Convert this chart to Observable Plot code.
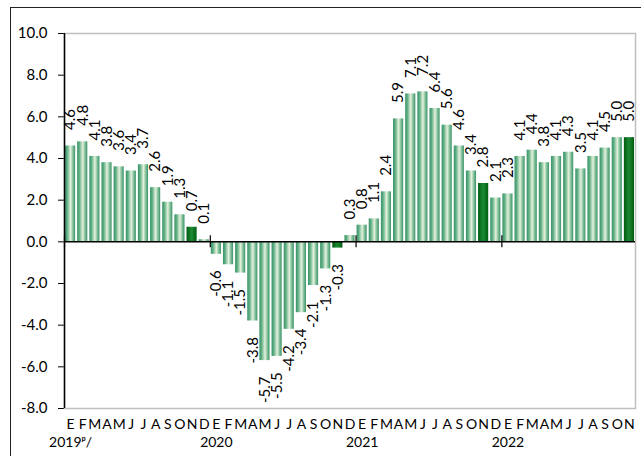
<!DOCTYPE html>
<html>
<head>
<meta charset="utf-8">
<script src="https://cdn.jsdelivr.net/npm/d3@7"></script>
<script src="https://cdn.jsdelivr.net/npm/@observablehq/plot@0.6"></script>
<style>
  html, body { margin: 0; padding: 0; background: #fff; overflow: hidden; }
  #wrap { position: relative; width: 641px; height: 456px; }
  #frame { position: absolute; left: 10px; top: 7px; width: 700px; height: 520px; border: 1.5px solid #222; box-sizing: border-box; pointer-events: none; }
  #chart { position: absolute; left: 0; top: 0; }
</style>
</head>
<body>
<div id="wrap"><div id="chart"></div><div id="frame"></div></div>
<script>
// Monthly values, Jan 2019 – Nov 2022
const months = ["E","F","M","A","M","J","J","A","S","O","N","D"];
const values2019 = [4.6, 4.8, 4.1, 3.8, 3.6, 3.4, 3.7, 2.6, 1.9, 1.3, 0.7, 0.1];
const values2020 = [-0.6, -1.1, -1.5, -3.8, -5.7, -5.5, -4.2, -3.4, -2.1, -1.3, -0.3, 0.3];
const values2021 = [0.8, 1.1, 2.4, 5.9, 7.1, 7.2, 6.4, 5.6, 4.6, 3.4, 2.8, 2.1];
const values2022 = [2.3, 4.1, 4.4, 3.8, 4.1, 4.3, 3.5, 4.1, 4.5, 5.0, 5.0];
const yearLabels = ["2019\u1D56/", "2020", "2021", "2022"];
const highlightMonth = "N";
const yTicks = [-8, -6, -4, -2, 0, 2, 4, 6, 8, 10];

const series = [values2019, values2020, values2021, values2022];
const data = [];
series.forEach((vals, y) => vals.forEach((v, m) => data.push({i: data.length, year: y, month: months[m], value: v})));
const years = yearLabels.map((label, y) => ({label, start: data.find(d => d.year === y).i}));

const fmt = d => d.toFixed(1);
const light = data.filter(d => d.month !== highlightMonth);
const dark = data.filter(d => d.month === highlightMonth);

const chart = Plot.plot({
  width: 641,
  height: 456,
  marginLeft: 64,
  marginRight: 6,
  marginTop: 33,
  marginBottom: 48,
  style: {fontFamily: "Lato, 'Open Sans', sans-serif", fontSize: "15px", color: "#000", background: "transparent"},
  x: {type: "linear", domain: [0, data.length], axis: null},
  y: {domain: [-8, 10], ticks: yTicks, tickFormat: fmt, tickSize: 6, tickPadding: 11, label: null},
  marks: [
    Plot.frame({stroke: "#bfbfbf", strokeWidth: 1.5}),
    Plot.rectY(light, {x1: d => d.i, x2: d => d.i + 1, y: "value", insetLeft: 1, insetRight: 1, fill: "url(#gLight)"}),
    Plot.rectY(dark, {x1: d => d.i, x2: d => d.i + 1, y: "value", insetLeft: 1, insetRight: 1, fill: "url(#gDark)"}),
    Plot.ruleY([0], {stroke: "#000", strokeWidth: 1.5}),
    Plot.ruleX([0], {stroke: "#000", strokeWidth: 1.5}),
    Plot.ruleX(years, {x: "start", y1: 0, y2: 0, insetTop: -6, insetBottom: -6, stroke: "#000", strokeWidth: 1.2}),
    Plot.text(data.filter(d => d.value >= 0), {x: d => d.i + 0.5, y: "value", text: d => fmt(d.value), rotate: -90, textAnchor: "start", dy: -16, fill: "#000"}),
    Plot.text(data.filter(d => d.value < 0), {x: d => d.i + 0.5, y: "value", text: d => fmt(d.value), rotate: -90, textAnchor: "end", dy: 16, fill: "#000"}),
    Plot.text(data, {x: d => d.i + 0.5, text: "month", frameAnchor: "bottom", lineAnchor: "top", dy: 11, fontSize: 14, fill: "#000"}),
    Plot.text(years, {x: d => d.start + 0.5, text: "label", frameAnchor: "bottom", lineAnchor: "top", dy: 29, fontSize: 14, fill: "#000"})
  ]
});

const ns = "http://www.w3.org/2000/svg";
const defs = document.createElementNS(ns, "defs");
function grad(id, stops) {
  const g = document.createElementNS(ns, "linearGradient");
  g.setAttribute("id", id);
  g.setAttribute("x1", "0"); g.setAttribute("x2", "1"); g.setAttribute("y1", "0"); g.setAttribute("y2", "0");
  stops.forEach(([o, c]) => {
    const s = document.createElementNS(ns, "stop");
    s.setAttribute("offset", o); s.setAttribute("stop-color", c);
    g.appendChild(s);
  });
  defs.appendChild(g);
}
grad("gLight", [["0", "#3a9468"], ["0.2", "#5aab80"], ["0.55", "#e4f2dc"], ["0.8", "#7abb95"], ["1", "#3a9468"]]);
grad("gDark", [["0", "#005c12"], ["0.5", "#1d8a32"], ["1", "#005c12"]]);
chart.insertBefore(defs, chart.firstChild);
document.getElementById("chart").appendChild(chart);
</script>
</body>
</html>
